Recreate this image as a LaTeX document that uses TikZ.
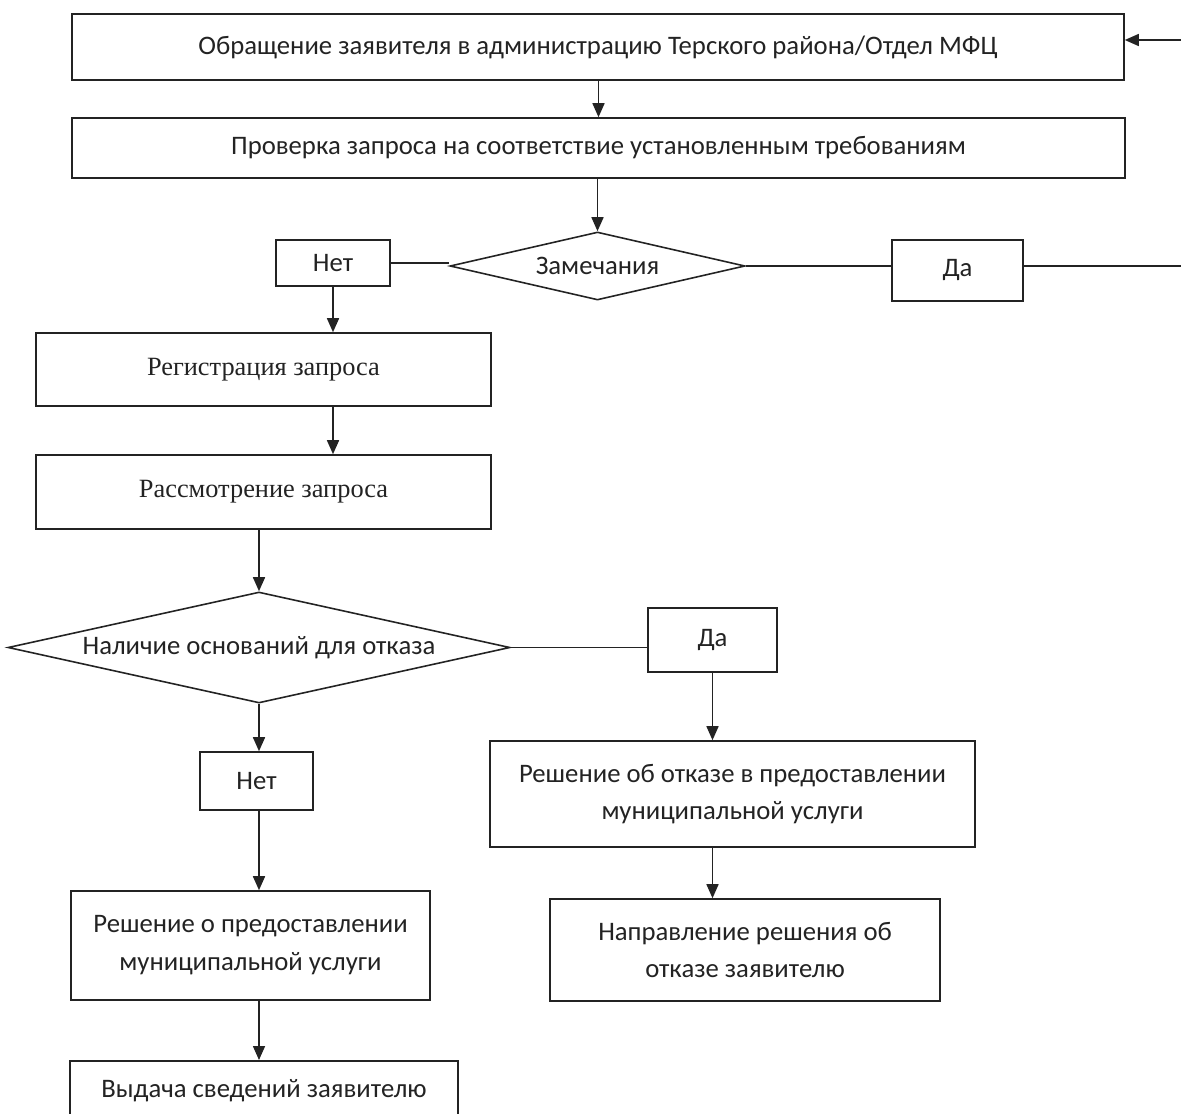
\documentclass[tikz,border=0pt]{standalone}
\usepackage{fontspec}
\setmainfont{Carlito}
\newfontfamily\serifru{Liberation Serif}
\usetikzlibrary{shapes.geometric, arrows.meta, positioning, calc}
\definecolor{mydark}{RGB}{35,35,35}
\tikzset{
  box/.style={rectangle, draw=mydark, fill=white, align=center,
    inner sep=0pt, line width=0.9pt, text=mydark,
    font=\fontsize{15.2}{21.5}\selectfont},
  wh/.style 2 args={minimum width=#1cm, minimum height=#2cm},
  decision/.style={diamond, draw=mydark, fill=white, align=center,
    inner sep=0pt, line width=0.9pt, text=mydark,
    font=\fontsize{15.2}{18}\selectfont},
  arrow/.style={-{Triangle[length=2.8mm, width=2.4mm]}, line width=0.9pt, color=mydark},
  line/.style={line width=0.9pt, color=mydark}
}
\begin{document}
\begin{tikzpicture}
  \useasboundingbox (0,0) rectangle (23.62,-22.26);
  \clip (0,0) rectangle (23.62,-22.26);
  \node[box, wh={21.04}{1.32}] (obr) at (11.96,-0.94)
    {Обращение заявителя в администрацию Терского района/Отдел МФЦ};
  \node[box, wh={21.06}{1.2}] (prov) at (11.97,-2.96)
    {Проверка запроса на соответствие установленным требованиям};
  \node[decision, minimum width=5.9cm, minimum height=1.36cm, aspect=4.3] (zam) at (11.95,-5.32) {Замечания};
  \node[box, wh={2.28}{0.92}] (net1) at (6.66,-5.26) {Нет};
  \node[box, wh={2.62}{1.22}] (da1) at (19.15,-5.41) {Да};
  \node[box, wh={9.1}{1.46}, font=\serifru\fontsize{15}{18}\selectfont] (reg) at (5.27,-7.39)
    {Регистрация запроса};
  \node[box, wh={9.1}{1.48}, font=\serifru\fontsize{15}{18}\selectfont] (rass) at (5.27,-9.84)
    {Рассмотрение запроса};
  \node[decision, minimum width=10.04cm, minimum height=2.22cm, aspect=4.5] (osn) at (5.18,-12.95)
    {Наличие оснований для отказа};
  \node[box, wh={2.58}{1.28}] (da2) at (14.25,-12.8) {Да};
  \node[box, wh={9.7}{2.12}] (otk) at (14.65,-15.88)
    {Решение об отказе в предоставлении\\муниципальной услуги};
  \node[box, wh={7.8}{2.04}] (napr) at (14.9,-19.0)
    {Направление решения об\\отказе заявителю};
  \node[box, wh={2.26}{1.16}] (net2) at (5.13,-15.62) {Нет};
  \node[box, wh={7.18}{2.18}] (pred) at (5.01,-18.91)
    {Решение о предоставлении\\муниципальной услуги};
  \node[box, wh={7.76}{1.2}, anchor=north] (vyd) at (5.28,-21.2)
    {Выдача сведений заявителю};
  \coordinate (re1) at (23.7,-0.8);
  \coordinate (re2) at (23.7,-5.32);

  \draw[arrow] (re1) -- (re1 -| obr.east);
  \draw[arrow] (obr.south -| prov.north) -- (prov.north);
  \draw[arrow] (prov.south -| zam.north) -- (zam.north);
  \draw[line] (net1.east) -- (net1.east -| zam.west);
  \draw[line] (zam.east) -- (zam.east -| da1.west);
  \draw[line] (da1.east |- re2) -- (re2);
  \draw[arrow] (net1.south) -- (net1.south |- reg.north);
  \draw[arrow] (net1.south |- reg.south) -- (net1.south |- rass.north);
  \draw[arrow] (osn.north |- rass.south) -- (osn.north);
  \draw[line] (osn.east) -- (osn.east -| da2.west);
  \draw[arrow] (da2.south) -- (da2.south |- otk.north);
  \draw[arrow] (da2.south |- otk.south) -- (da2.south |- napr.north);
  \draw[arrow] (osn.south) -- (osn.south |- net2.north);
  \draw[arrow] (osn.south |- net2.south) -- (osn.south |- pred.north);
  \draw[arrow] (osn.south |- pred.south) -- (osn.south |- vyd.north);
\end{tikzpicture}
\end{document}
